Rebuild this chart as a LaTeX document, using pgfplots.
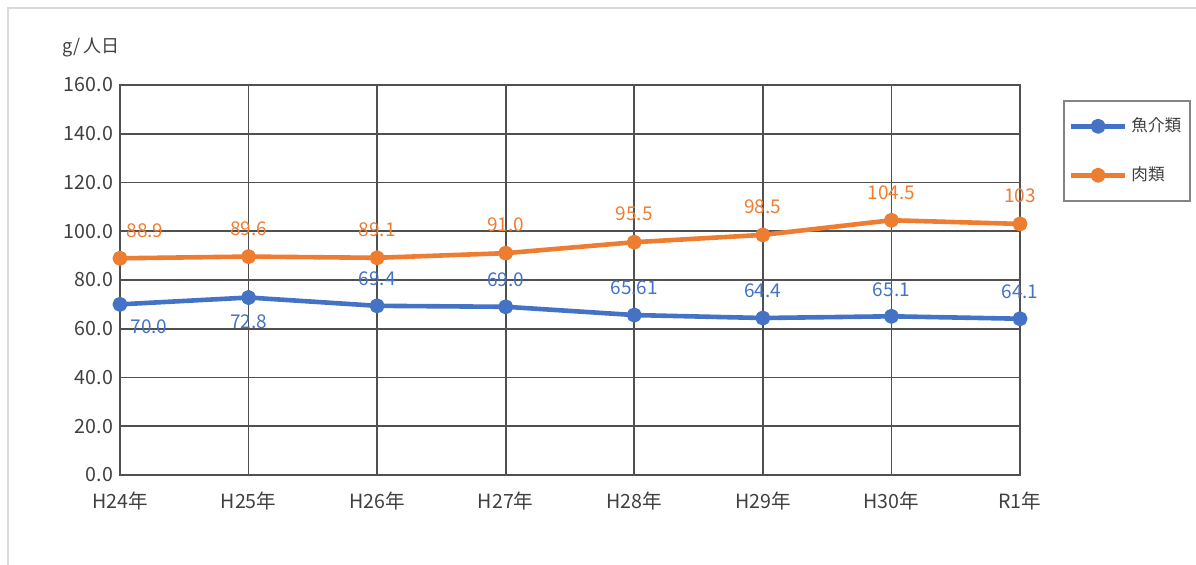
\documentclass[border=0pt]{standalone}
\usepackage{pgfplots}
\pgfplotsset{compat=1.18}
\usepackage{fontspec}
\setmainfont{Noto Sans CJK JP}
\definecolor{gridc}{RGB}{80,80,80}
\definecolor{textc}{RGB}{64,64,64}
\definecolor{sblue}{RGB}{68,114,196}
\definecolor{sorange}{RGB}{237,125,49}
\pgfplotsset{
  lbl/.style 2 args={
    forget plot, draw=none, mark=none,
    nodes near coords,
    point meta=explicit symbolic,
    nodes near coords style={anchor=center, font=\fontsize{9.5}{11}\selectfont, text=#1, #2},
  }
}
\begin{document}
\begin{tikzpicture}
\useasboundingbox (-60pt,-45pt) rectangle (538pt,237.5pt);
\draw[black!15, line width=1pt] (-56pt,-45pt) -- (-56pt,233.5pt) -- (538pt,233.5pt);
\node[anchor=west, text=textc, font=\fontsize{9}{11}\selectfont, inner sep=0pt] at (-29pt,214pt) {g/\,人日};
\begin{axis}[
  at={(0pt,0pt)}, anchor=south west,
  scale only axis, width=450pt, height=195pt,
  xmin=0, xmax=7, ymin=0, ymax=160,
  xtick={0,...,7},
  xticklabels={H24年,H25年,H26年,H27年,H28年,H29年,H30年,R1年},
  ytick={0,20,...,160},
  grid=major,
  grid style={line width=0.9pt, gridc},
  axis line style={line width=0.9pt, gridc},
  tick style={draw=none},
  clip=false,
  ticklabel style={font=\fontsize{9.8}{11}\selectfont, text=textc},
  yticklabel style={/pgf/number format/.cd, fixed, fixed zerofill, precision=1, assume math mode=true},
  xticklabel style={yshift=-5pt},
  legend style={at={(1.0478,0.9615)}, anchor=north west, draw=gridc!70, line width=0.8pt,
    font=\fontsize{8.3}{10}\selectfont, text=textc, row sep=12pt, inner xsep=2.5pt, inner ysep=6.5pt},
  legend cell align=left,
  legend image code/.code={\draw[mark repeat=2,mark phase=2,#1] plot coordinates {(0pt,0pt) (13.5pt,0pt) (27pt,0pt)};},
]
\addplot[sblue, line width=2.3pt, line join=round, mark=*, mark size=2.6pt, mark options={solid, fill=sblue}]
  coordinates {(0,70.0) (1,72.8) (2,69.4) (3,69.0) (4,65.61) (5,64.4) (6,65.1) (7,64.1)};
\addlegendentry{魚介類}
\addplot[sorange, line width=2.3pt, line join=round, mark=*, mark size=2.6pt, mark options={solid, fill=sorange}]
  coordinates {(0,88.9) (1,89.6) (2,89.1) (3,91.0) (4,95.5) (5,98.5) (6,104.5) (7,103)};
\addlegendentry{肉類}
% data labels
\addplot[lbl={sblue}{xshift=14.5pt, yshift=-11pt}] coordinates {(0,70.0) [70.0]};
\addplot[lbl={sblue}{yshift=-12pt}] coordinates {(1,72.8) [72.8]};
\addplot[lbl={sblue}{yshift=13.5pt}] coordinates {(2,69.4) [69.4] (3,69.0) [69.0] (4,65.61) [65.61] (5,64.4) [64.4] (6,65.1) [65.1] (7,64.1) [64.1]};
\addplot[lbl={sorange}{xshift=12.5pt, yshift=14pt}] coordinates {(0,88.9) [88.9]};
\addplot[lbl={sorange}{yshift=14pt}] coordinates {(1,89.6) [89.6] (2,89.1) [89.1] (3,91.0) [91.0] (4,95.5) [95.5] (5,98.5) [98.5] (6,104.5) [104.5] (7,103) [103]};
\end{axis}
\end{tikzpicture}
\end{document}
